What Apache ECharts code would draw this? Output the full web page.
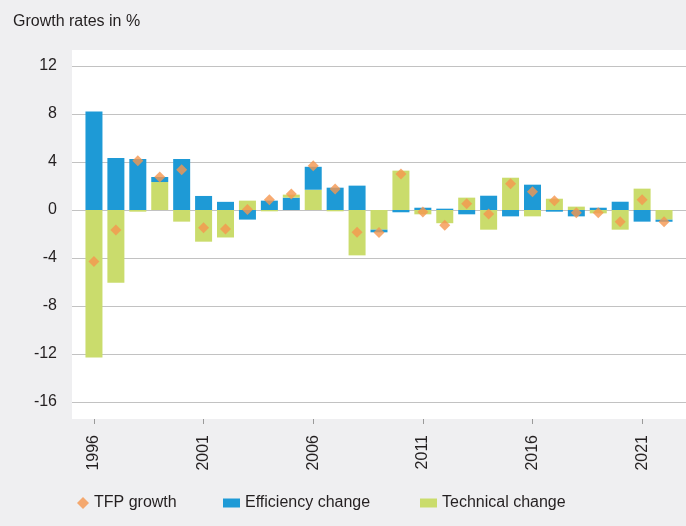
<!DOCTYPE html>
<html>
<head>
<meta charset="utf-8">
<script src="https://cdn.jsdelivr.net/npm/echarts@6/dist/echarts.min.js"></script>
<style>
  html, body { margin: 0; padding: 0; background: #efeff1; }
  #chart { width: 686px; height: 526px; }
</style>
</head>
<body>
<div id="chart"></div>
<script>
const years = [
  "1996", "1997", "1998", "1999", "2000", "2001", "2002", "2003", "2004",
  "2005", "2006", "2007", "2008", "2009", "2010", "2011", "2012", "2013",
  "2014", "2015", "2016", "2017", "2018", "2019", "2020", "2021", "2022",
];
const efficiencyChange = [
  8.2, 4.33, 4.25, 0.42, 4.25, 1.17, 0.68, -0.8, 0.78,
  1.03, 1.91, 1.86, 2.03, -0.22, -0.19, 0.19, 0.11, -0.36,
  1.19, -0.53, 2.11, -0.14, -0.53, 0.19, 0.69, -0.97, -0.17,
];
const technicalChange = [
  -12.3, -6.06, -0.14, 2.33, -0.97, -2.64, -2.29, 0.78, -0.11,
  0.25, 1.69, -0.11, -3.78, -1.64, 3.28, -0.36, -1.1, 1.03,
  -1.64, 2.69, -0.53, 0.94, 0.28, -0.28, -1.64, 1.78, -0.81,
];
const tfpGrowth = [
  -4.3, -1.67, 4.1, 2.75, 3.36, -1.47, -1.58, 0.05, 0.86,
  1.33, 3.69, 1.75, -1.86, -1.88, 3.0, -0.17, -1.28, 0.53,
  -0.33, 2.19, 1.53, 0.78, -0.22, -0.22, -0.97, 0.86, -0.97,
];
// years where the efficiency bar sits next to zero (technical stacked outside)
const efficiencyInner = ["2005"];
const yTicks = [12, 8, 4, 0, -4, -8, -12, -16];

const blue = "#1e9ad6";
const green = "#cadc6c";
const orange = "#f5964f";
const textColor = "#231f20";
const font = "'Liberation Sans', Arial, sans-serif";

const techInner = technicalChange.map((v, i) =>
  efficiencyInner.includes(years[i]) ? null : v
);
const techOuter = technicalChange.map((v, i) =>
  efficiencyInner.includes(years[i]) ? v : null
);

const chart = echarts.init(document.getElementById("chart"), null, {
  renderer: "canvas",
});

const legendText = { fontSize: 16, color: textColor, fontFamily: font };

chart.setOption({
  animation: false,
  backgroundColor: "#efeff1",
  textStyle: { fontFamily: font },
  title: {
    text: "Growth rates in %",
    left: 13,
    top: 14,
    padding: 0,
    textStyle: {
      fontFamily: font,
      fontSize: 16,
      fontWeight: "normal",
      color: textColor,
    },
  },
  graphic: [
    {
      type: "rect",
      z: -10,
      shape: { x: 72, y: 50, width: 614, height: 369 },
      style: { fill: "#ffffff" },
      silent: true,
    },
  ],
  grid: [
    { left: 72, right: 0, top: 66, bottom: 124 },
    { left: 83, right: 11, top: 66, bottom: 124 },
  ],
  xAxis: [
    { type: "value", gridIndex: 0, show: false, min: 0, max: 1 },
    {
      type: "category",
      gridIndex: 1,
      data: years,
      position: "bottom",
      offset: 17,
      axisLine: { show: false, onZero: false },
      axisTick: {
        show: true,
        interval: 4,
        alignWithLabel: true,
        length: 5,
        lineStyle: { color: "#9a9a9a" },
      },
      axisLabel: {
        interval: 4,
        rotate: 90,
        margin: 16,
        fontSize: 16,
        color: textColor,
        fontFamily: font,
      },
    },
  ],
  yAxis: [
    {
      type: "value",
      gridIndex: 0,
      min: -16,
      max: 12,
      interval: 4,
      axisLine: { show: false },
      axisTick: { show: false },
      axisLabel: {
        margin: 15,
        fontSize: 16,
        color: textColor,
        fontFamily: font,
        customValues: yTicks,
      },
      splitLine: { lineStyle: { color: "#c2c2c2", width: 1 } },
    },
    {
      type: "value",
      gridIndex: 1,
      min: -16,
      max: 12,
      interval: 4,
      show: false,
      splitLine: { show: false },
    },
  ],
  legend: [
    {
      data: [{ name: "TFP growth", icon: "diamond" }],
      left: 72,
      top: 490,
      itemWidth: 12,
      itemHeight: 12,
      itemStyle: { color: orange },
      textStyle: legendText,
    },
    {
      data: [{ name: "Efficiency change", icon: "rect" }],
      left: 218,
      top: 490,
      itemWidth: 17,
      itemHeight: 9,
      textStyle: legendText,
    },
    {
      data: [{ name: "Technical change", icon: "rect" }],
      left: 415,
      top: 490,
      itemWidth: 17,
      itemHeight: 9,
      textStyle: legendText,
    },
  ],
  series: [
    {
      name: "Technical change",
      type: "bar",
      xAxisIndex: 1,
      yAxisIndex: 1,
      stack: "tfp",
      barWidth: 17,
      data: techInner,
      itemStyle: { color: green },
    },
    {
      name: "Efficiency change",
      type: "bar",
      xAxisIndex: 1,
      yAxisIndex: 1,
      stack: "tfp",
      barWidth: 17,
      data: efficiencyChange,
      itemStyle: { color: blue },
    },
    {
      name: "Technical change",
      type: "bar",
      xAxisIndex: 1,
      yAxisIndex: 1,
      stack: "tfp",
      barWidth: 17,
      data: techOuter,
      itemStyle: { color: green },
    },
    {
      name: "TFP growth",
      type: "scatter",
      xAxisIndex: 1,
      yAxisIndex: 1,
      symbol: "diamond",
      symbolSize: 11,
      z: 5,
      data: tfpGrowth,
      itemStyle: { color: orange },
    },
  ],
});
</script>
</body>
</html>
